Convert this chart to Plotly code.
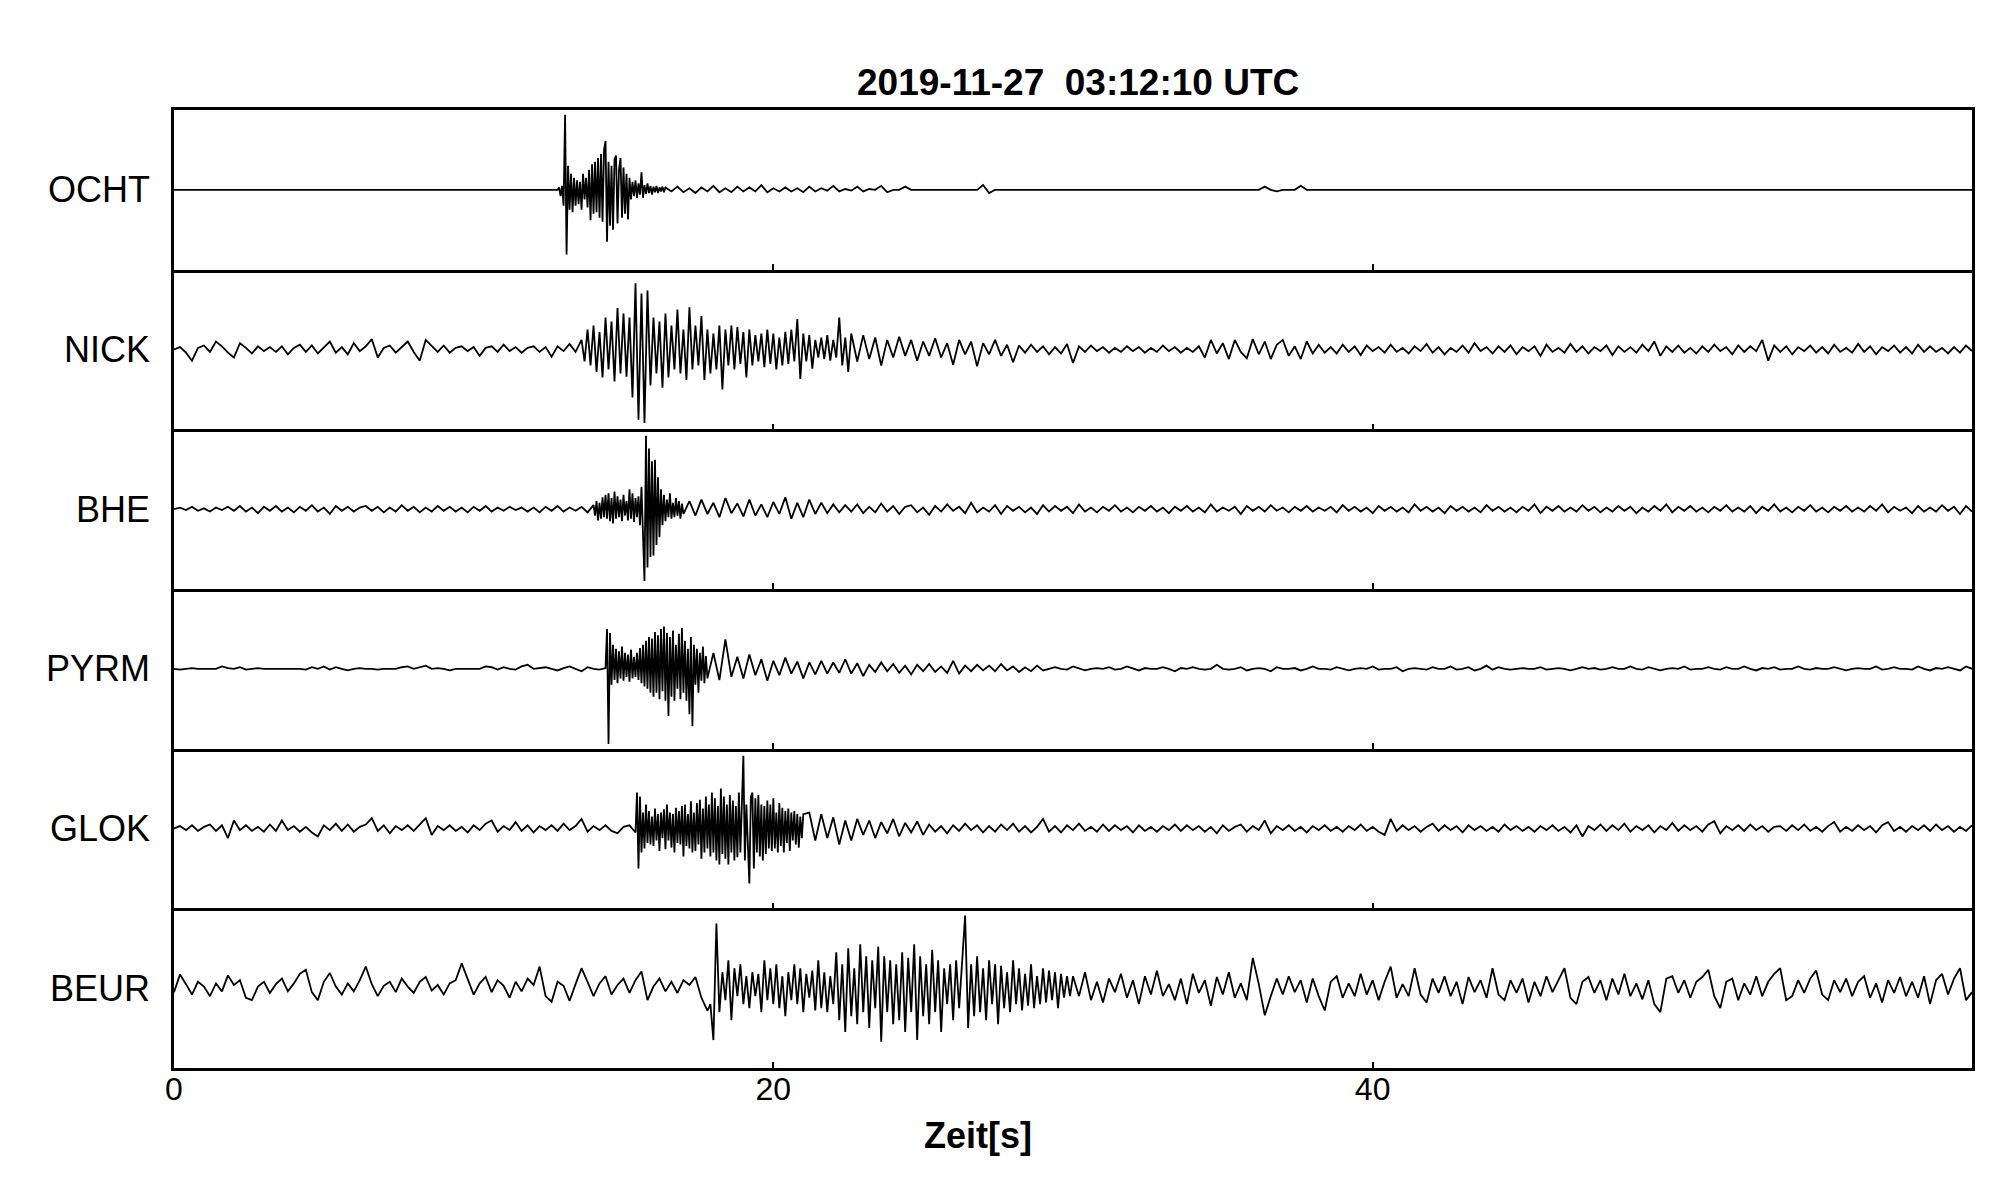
import numpy as np
import plotly.graph_objects as go
from plotly.subplots import make_subplots

# ---------------- data (amplitudes in % of half panel height) ----------------
STATIONS = ["OCHT", "NICK", "BHE", "PYRM", "GLOK", "BEUR"]
X_TICKS = [0, 20, 40]
X_TICK_LABELS = ["0", "20", "40"]
TITLE = "2019-11-27\u00a0 03:12:10 UTC"
X_TITLE = "Zeit[s]"

# OCHT
OCHT_PRE = [0, 0, 0, 0, 0, 0, 0, 0, 0, 0, 0, 0, 0]                       # 0 .. 12 s
OCHT_BURST = [0, 3, -8, 5, -20, 94, -81, 30, -25, 20,
              -28, 15, -20, 12, -18, 10, -25, 20, -12, 15,
              -22, 25, -38, 32, -30, 35, -28, 40, -35, 45,
              -40, 50, 61, -65, 35, -45, 30, -50, 38, 43,
              -42, 25, 40, -35, 28, -30, 20, -37, 15, -12,
              10, -8, 12, -10, 8, -6, 22, -10, 6, -5,
              8, -4, 5, -6, 4, -3, 5, -4, 3, -2, 4, -3]                # 12.8 .. 16.35 s
OCHT_CODA = [3, -2, 4, -3, 2, -4, 3, -2, 5, -3,
             2, -3, 4, -2, 3, -2, 6, -3, 2, -2,
             3, -2, 2, -3, 4, -2, 2, -1, 5, -2,
             1, -1, 4, -2, 1, 0, 5, -3, 0, 0,
             4, 0]                                                     # 16.4 .. 24.6 s
OCHT_T1 = [0, 0]                                                       # 25 .. 26 s
OCHT_T2 = [0, 0, 6, -4, 0, 0]                                          # 26.6 .. 27.6 s
OCHT_T3 = [0, 0, 0, 0]                                                 # 28 .. 34 s
OCHT_T4 = [0, 0, 4, 0, -2, 0, 0, 0, 5, 0, 0]                           # 36 .. 38 s
OCHT_T5 = [0, 0, 0, 0, 0, 0, 0, 0]                                     # 39 .. 60 s

# NICK
NICK_PRE = [0, 3, -4, -14, 2, 5, -3, 10, 4, -4,
            -10, 8, 2, -5, 4, -2, 3, -3, 4, -6,
            2, 6, -3, 5, -5, 3, 10, -4, 3, -6,
            8, -2, 4, 13, -10, 2, 5, -4, 3, 10,
            -3, -14, 12, 4, -3, 5, -4, 2, 4, -2,
            3, -8, 2, 4, -3, 6, -2, 3, -4, 2,
            4, -3, 3, -9, 4, -2, 7, -3]                                # 0 .. 13.4 s
NICK_BURST = [12, -15, 25, -20, 30, -28, 22, -35, 40, -25,
              35, -40, 52, -30, 45, -34, 40, -60, 83, -88,
              70, -92, 74, -45, 40, -30, 35, -48, 45, -35,
              30, -25, 50, -30, 25, -38, 53, -25, 30, -20,
              42, -38, 25, -30, 20, -25, 30, -50, 25, -20,
              30, -25, 28, -18, 22, -35, 25, -20, 18, -15,
              20, -22, 25, -18, 20, -25, 15, -20, 22, -18,
              25, -15, 38, -37, 20, -15, 18, -24, 12, -10,
              15, -12, 18, -14, 12, -10, 40, -20, 15, -28]             # 13.6 .. 22.5 s
NICK_CODA = [20, -15, 18, -12, 15, -20, 12, -10, 16, -8,
             12, -14, 10, -8, 14, -10, 8, -19, 12, -6,
             10, -21, 8, -6, 12, -8, 6, -16,
             5, -4, 6, -3, 4, -6, 3, -5, 7, -17,
             4, -3, 5, -2, 3, -4, 2, -3, 4, -2,
             3, -4, 2, -3, 5, -2, 3, -4, 2, -3,
             4, -10, 12, -5, 8, -12, 12, -3, -11, 13,
             -6, 10, -12, 6, 12, -8, 4, -12, 10, -5,
             6, -4,
             3, -5, 6, -3, 4, -7, 5, -2, 3, -4,
             6, -3, 2, -5, 4, -2, 7, -4, 3, -6,
             2, -3, 5, -4, 8, -2, 3, -5, 4, -3,
             5, -6, 3, -2, 4, -8, 6, -3, 2, -4,
             7, -3, 4, -5, 3, -2, 5, -7, 4, -3,
             3, -4, 6, -2, 10, -8, 4, -3, 5, -4,
             2, -5, 4, -3, 6, -2, 3, -6, 5, -3,
             4, -2, 12, -14, 5, -3, 4, -6, 3, -2,
             5, -4, 3, -5, 6, -3, 2, -4, 7, -3,
             4, -6, 3, -2, 5, -4, 3, -5, 6, -3,
             4, -3, 2, -5, 3, -4, 5, -2]                               # 22.6 .. 60 s

# BHE
BHE_PRE = [0, 2, -1, 3, -2, 1, -3, 2, -1, 3,
           -2, 4, -3, 2, -5, 3, -2, 4, -3, 2,
           -4, 3, -2, 5, -3, 2, -6, 4, -2, 3,
           -3, 2, 4, -2, 3, -4, 2, -3, 5, -2,
           3, -4, 2, -3, 4, -2, 3, -3, 2, -4,
           3, -2, 4, -3, 2, -2, 3, -1, 2, -3,
           2, -4, 3, -2, 4, -3, 2, -2, 3, -4]                          # 0 .. 13.8 s
BHE_BURST = [5, -8, 10, -14, 8, -12, 15, -10, 18, -12,
             20, -15, 14, -18, 22, -12, 16, -10, 12, -15,
             18, -8, 10, -14, 25, -12, 20, -16, 14, -10,
             16, -20, 28, -40, -90, 92, -73, 76, -60, 60,
             -58, 62, -45, 40, -35, 25, -20, 18, -15, 12,
             -10, 20, -12, 8, -10, 14, -8, 10, -12, 7,
             -6]                                                       # 14.0 .. 17.0 s
BHE_CODA = [10, -8, 12, -6, 8, -10, 14, -5, 7, -9,
            12, -8, 6, -10, 9, -6, 15, -12, 8, -10,
            12, -6, 8, -5, 6,
            -4, 5, -3, 6, -5, 3, -4, 7, -3, 4,
            -6, 3, 5, -4, 2, -7, 4, -3, 6, -2,
            3, -5, 8, -4, 2, -3, 5, -6, 4, -2,
            3, -4, 2, -6, 5, -3, 4, -2, 3, -5,
            6, -3, 2, -4, 3, -2, 5, -3, 2, -4,
            3, -2, 4, -3, 2, -5, 3, -2, 4, -3,
            2, -4, 6, -3, 2, -2, 3, -6, 4, -2,
            3, -3, 5, -2, 2, -4, 3, -2, 4, -3,
            2, -2, 3, -4, 5, -2, 3, -3, 2, -5,
            4, -2, 3, -3, 2, -4, 6, -2, 3, -3,
            2, -5, 4, -2, 3, -3, 2, -4, 5, -2,
            3, -3, 2, -4, 3, -2, 6, -5, 3, -2,
            4, -3, 2, -3, 5, -2, 3, -4, 2, -3,
            4, -2, 3, -5, 2, -3, 4, -2, 6, -4,
            3, -2, 4, -3, 2, -4, 3, -2, 5, -3,
            2, -3, 4, -5, 3, -2, 6, -3, 2, -4,
            3, -2, 5, -3, 2, -4, 3, -2, 4, -3,
            2, -3, 4, -2, 6, -4, 3, -2, 2, -5,
            4, -3, 2, -3, 5, -2, 3, -6, 4, -3]                         # 17.2 .. 60 s

# PYRM
PYRM_PRE = [0, -1, 0, 1, 0, 0, 0, 0, 3, 1,
            0, 2, -1, 0, 1, 0, 0, 0, 0, 0,
            0, 0, -1, 2, 0, 3, -1, 2, 0, -2,
            0, 1, 0, 0, -1, 0, 0, 0, 2, 3,
            0, 2, 4, 0, 1, 0, -2, 0, 0, 0,
            0, 0, 3, 2, -1, 2, 0, -1, 3, 5,
            0, 1, 2, 0, -2, 1, 3, 0, -3, 2,
            0, -1, 1]                                                  # 0 .. 14.4 s
PYRM_BURST = [50, -94, 45, -20, 30, -14, 25, -18, 22, -12,
              28, -15, 20, -10, 18, -16, 24, -12, 15, -10,
              20, -14, 26, -18, 30, -22, 35, -25, 40, -30,
              38, -35, 46, -30, 42, -38, 50, -28, 53, -40,
              45, -59, 40, -35, 48, -40, 30, -25, 44, -38,
              51, -30, 35, -40, 25, -57, 40, -72, 30, -20,
              25, -30, 20, -15, 28, -18, 16, -12]                      # 14.45 .. 17.8 s
PYRM_CODA = [20, -14, 37, -10, 15, -12, 18, -8, 12, -15,
             10, -8, 14, -6, 9, -12, 8, -7, 10, -6,
             8, -5, 12, -6, 7, -9,
             5, -4, 8, -3, 6, -5, 4, -7, 5, -3,
             6, -4, 3, -5, 10, -6, 4, -3, 5, -2,
             4, -3, 6, -2, 3, -4, 2, -3, 4, -2,
             0, 2, 0, -1, 3, 0, -2, 0, 1, 0,
             2, -1, 0, 3, 0, -2, 1, 0, 0, 2,
             0, -3, 1, 0, 2, 0, -1, 0, 5, 0,
             -1, 0, 2, -2, 0, 1, 0, -3, 2, 0,
             0, 1, -2, 0, 3, 0, 0, -1, 2, 0,
             -2, 0, 1, 0, 3, -1, 0, 0, 2, -3,
             0, 1, 0, -1, 2, 0, 0, 3, -1, 0,
             2, -2, 0, 4, -1, 2, 0, -1, 0, 1,
             0, 0, 2, -1, 0, 1, 0, -2, 0, 2,
             0, 1, -1, 0, 2, 0, 0, 3, 0, -1,
             2, 0, -2, 0, 1, 0, 3, -1, 0, 0,
             2, 0, -1, 2, 0, 0, 3, 0, -2, 1,
             0, 2, -1, 0, 0, 3, 0, -1, 1, 0,
             0, 2, 0, -2, 0, 1, 0, 0, 3, -1,
             0, 2, 0, 0, -1, 3, 0, -2, 1, 0,
             2, 0, -2, 3, 0]                                           # 18.0 .. 60 s

# GLOK
GLOK_PRE = [0, 3, -2, 4, -3, 2, 5, -3, 4, -12,
            10, -2, 4, -3, 2, -4, 5, -3, 10, -2,
            3, -4, 2, -5, -10, 4, -2, 6, -3, 5,
            -4, 2, 5, 13, -3, 4, -6, 3, -2, 4,
            -3, 5, 13, -8, 3, -2, 4, -3, 2, -5,
            4, -2, 6, 10, -4, 3, -2, 8, -3, 4,
            -5, 3, -2, 4, -3, 6, -2, 3, 12, -4,
            3, -2, 4, -3, -6, 2, 4]                                    # 0 .. 15.2 s
GLOK_BURST = [-5, 45, -50, 40, -30, 20, -25, 30, -18, 22,
              -20, 15, -22, 25, -15, 18, -28, 20, -12, 24,
              -26, 30, -15, 20, -24, 18, -30, 26, -18, 22,
              -20, 28, -35, 30, -22, 18, -25, 34, -30, 20,
              -28, 32, -20, 36, -38, 25, -30, 40, -25, 30,
              -35, 45, -30, 38, -40, 28, -45, 50, -32, 40,
              -38, 30, -45, 42, -30, 35, -40, 28, -36, 45,
              -30, 50, 91, -40, 30, -20, -69, 40, 45, -50,
              38, -30, 42, -35, 30, -40, 28, -32, 35, -25,
              30, -28, 38, -25, 20, -30, 32, -22, 26, -30,
              22, -18, 25, -28, 20, -15, 22, -20, 18, -24,
              15, -12, 18]                                             # 15.4 .. 21.0 s
GLOK_CODA = [20, -15, 18, -12, 14, -20, 10, -15, 12, -8,
             10, -12, 8, -6, 12, -10, 7, -5, 9, -8,
             5, -4, 3, -6, 4, -3, 6, -2, 4, -5,
             3, -4, 5, -2, 6, -4, 3, -5, 2, 12,
             -4, 3, -5, 4, -2, 6, -3, 2, -4, 5,
             -3, 4, -2, 3, -5, 4, -3, 2, -4, 3,
             -2, 5, -3, 4, -2, 3, -4, 2, -6, 4,
             -3, 2, 5, -4, 3, -2, 10, -6, 3, -2,
             4, -3, 2, -5, 3, -2, 4, -3, 2, -4,
             3, -2, 5, -3, 2, -4, -8, 12, -3, 4,
             -2, 3, -4, 2, 6, -3, 4, -2, 3, -5,
             4, -2, 3, -3, 2, -4, 5, -2, 3, -3,
             2, -4, 3, -2, 4, -3, 2, -5, 4, -10,
             3, -2, 5, -3, 4, -2, 6, -4, 3, -2,
             4, -5, 3, -2, 7, -3, 4, -2, 3, -4,
             5, 9, -6, 3, -2, 4, -3, 5, -2, 3,
             -4, 2, 3, -3, 4, -2, 5, -3, 2, -4,
             3, 8, -4, 2, -3, 4, -2, 3, -5, 4,
             8, -3, 2, -4, 3, -2, 4, -3, 5, -2,
             3, -4, 2, -3, 4]                                          # 21.2 .. 60 s

# BEUR
BEUR_PRE = [-5, 17, 5, -8, 8, 2, -10, 6, -4, 16,
            4, 10, -12, -15, 2, 8, -6, 5, 12, -4,
            6, 18, 23, -5, -15, 8, 19, 2, -8, 6,
            -4, 10, 27, 5, -10, 3, 8, -5, 12, 2,
            -6, 8, 14, -3, 4, -8, 6, 10, 31, 12,
            -8, 6, 14, -5, 10, 3, -12, 8, -4, 12,
            4, 27, -10, -17, 8, 3, -16, 5, 25, 8,
            -10, 6, 15, -8, 4, 12, -6, 10, 21, -15,
            2, 12, -4, 8, -6, 10, 4, 14, -12, -28]                     # 0 .. 17.8 s
BEUR_BURST = [-20, -65, 81, -30, 20, -15, 35, -40, 25, -10,
              30, -20, 15, -25, 20, -10, 18, -30, 35, -15,
              25, -20, 30, -25, 15, -35, 20, -15, 30, -20,
              25, -30, 18, -12, 22, -28, 35, -25, 20, -30,
              15, -20, 45, -40, 30, -55, 50, -35, 25, -45,
              55, -30, 40, -50, 35, -25, 52, -67, 40, -30,
              35, -45, 30, -40, 45, -55, 38, -30, 55, -65,
              40, -35, 30, -45, 48, -30, 35, -55, 25, -20,
              30, -40, 35, -25, 40, 91, -50, 30, -35, 40,
              -30, 25, -40, 35, -20, 30, -45, 28, -25, 20,
              -30, 35, -20, 25, -28, 18, -22, 30, -25, 15,
              -20, 25, -18, 22, -15, 20, -25, 18, -12, 15,
              -10]                                                     # 17.9 .. 29.9 s
BEUR_CODA = [15, -10, 20, -15, 8, -18, 12, -5, 18, -12,
             10, -20, 15, -8, 22, -10, 5, -15, 12, -20,
             18, -6, 10, -22, 14, -8, 20, -12, 6, -15,
             38, 5, -34, -10, 12, -8, 15, -5, 10, -18,
             12, -10, -28, 8, 15, -12, 6, -10, 18, -8,
             10, -15, 8, 27, -12, 5, -10, 25, -8, -18,
             12, -6, 15, -10, 8, -20, 14, -5, 10, -12,
             25, -8, -15, 10, -6, 12, -18, 8, -10, 15,
             -5, 10, 25, -12, -20, 8, 14, -6, 10, -15,
             12, -8, 18, -10, 6, -14, 10, -20, -30, 12,
             15, -6, 10, -12, 8, 14, 23, -10, -25, 8,
             12, -15, 6, -8, 15, -10, 8, 18, 25, -15,
             -10, 10, -6, 12, 22, -8, -15, 10, -5, 12,
             -10, 8, 15, -12, 6, -18, 10, -6, 14, -10,
             8, -12, 15, -20, 10, 18, -8, 12, 25, -15,
             -5]                                                       # 30.0 .. 60 s

# recording segments: (first sample time, last sample time, samples)
SEGMENTS = {
    "OCHT": [(0.0, 12.0, OCHT_PRE), (12.8, 16.35, OCHT_BURST), (16.4, 24.6, OCHT_CODA),
             (25.0, 26.0, OCHT_T1), (26.6, 27.6, OCHT_T2), (28.0, 34.0, OCHT_T3),
             (36.0, 38.0, OCHT_T4), (39.0, 60.0, OCHT_T5)],
    "NICK": [(0.0, 13.4, NICK_PRE), (13.6, 22.5, NICK_BURST), (22.6, 60.0, NICK_CODA)],
    "BHE": [(0.0, 13.8, BHE_PRE), (14.0, 17.0, BHE_BURST), (17.2, 60.0, BHE_CODA)],
    "PYRM": [(0.0, 14.4, PYRM_PRE), (14.45, 17.8, PYRM_BURST), (18.0, 60.0, PYRM_CODA)],
    "GLOK": [(0.0, 15.2, GLOK_PRE), (15.4, 21.0, GLOK_BURST), (21.2, 60.0, GLOK_CODA)],
    "BEUR": [(0.0, 17.8, BEUR_PRE), (17.9, 29.9, BEUR_BURST), (30.0, 60.0, BEUR_CODA)],
}


def build(segments):
    ts, ys = [], []
    for t0, t1, vals in segments:
        ts.append(np.linspace(t0, t1, len(vals)))
        ys.append(np.asarray(vals, dtype=float))
    return np.concatenate(ts), np.concatenate(ys)


# ---------------- figure ----------------
FONT = "Liberation Sans, Arial, Helvetica, sans-serif"
OFF = 8                      # page body margin of the browser
W, H = 2005 - 2 * OFF, 1202 - 2 * OFF
ML, MT = 174 - OFF, 110 - OFF
MR = W - (1972 - OFF)
MB = H - (1068 - OFF)

n = len(STATIONS)
fig = make_subplots(rows=n, cols=1, shared_xaxes=True, vertical_spacing=0)

for i, st in enumerate(STATIONS):
    t, y = build(SEGMENTS[st])
    fig.add_trace(go.Scatter(x=t, y=y, mode="lines",
                             line=dict(color="black", width=1.8),
                             hoverinfo="skip", showlegend=False),
                  row=i + 1, col=1)
    fig.update_yaxes(tickvals=[0], ticktext=[st], row=i + 1, col=1)
    fig.update_xaxes(mirror=(i == 0), row=i + 1, col=1)

fig.update_xaxes(range=[0, 60], showline=True, linecolor="black", linewidth=2.5,
                 ticks="inside", ticklen=6, tickwidth=2, tickcolor="black",
                 tickvals=X_TICKS, ticktext=X_TICK_LABELS, showgrid=False, zeroline=False,
                 ticklabelstandoff=-9,
                 tickfont=dict(family=FONT, size=32, color="black"))
fig.update_yaxes(range=[-100, 100], showline=True, linecolor="black", linewidth=2.5,
                 mirror=True, ticks="", showgrid=False, zeroline=False,
                 ticklabelstandoff=14,
                 tickfont=dict(family=FONT, size=36, color="black"))

plot_h = H - MT - MB
plot_w = W - ML - MR
fig.add_annotation(text="<b>" + TITLE + "</b>", xref="paper", yref="paper",
                   x=(1078 - 174) / plot_w, y=(1068 - 82) / plot_h,
                   xanchor="center", yanchor="middle", showarrow=False,
                   font=dict(family=FONT, size=37, color="black"))
fig.add_annotation(text="<b>" + X_TITLE + "</b>", xref="paper", yref="paper",
                   x=(978 - 174) / plot_w, y=(1068 - 1135) / plot_h,
                   xanchor="center", yanchor="middle", showarrow=False,
                   font=dict(family=FONT, size=36, color="black"))

fig.update_layout(width=W, height=H, margin=dict(l=ML, r=MR, t=MT, b=MB),
                  paper_bgcolor="white", plot_bgcolor="white",
                  font=dict(family=FONT, color="black"))

fig.write_html("out.html")
